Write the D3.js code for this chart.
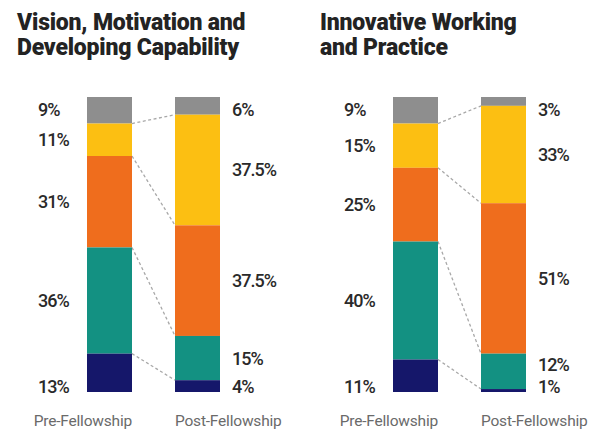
<!DOCTYPE html>
<html>
<head>
<meta charset="utf-8">
<script src="https://cdn.jsdelivr.net/npm/d3@7"></script>
<style>
  body { margin: 0; background: #fff; }
  svg { display: block; }
</style>
</head>
<body>
<div id="canvas"></div>
<script>
var _width = 597, _height = 437;

// segments, top to bottom
var segments = ["Other", "Yellow", "Orange", "Teal", "Navy"];
var colors = ["#8e8e8e", "#fcbf12", "#ef6d1d", "#139182", "#15176a"];
var stages = ["Pre-Fellowship", "Post-Fellowship"];

var titles = [
  ["Vision, Motivation and", "Developing Capability"],
  ["Innovative Working", "and Practice"]
];
var visionPre = [9, 11, 31, 36, 13];
var visionPost = [6, 37.5, 37.5, 15, 4];
var innovPre = [9, 15, 25, 40, 11];
var innovPost = [3, 33, 51, 12, 1];
var preLabels1 = ["9%", "11%", "31%", "36%", "13%"];
var postLabels1 = ["6%", "37.5%", "37.5%", "15%", "4%"];
var preLabels2 = ["9%", "15%", "25%", "40%", "11%"];
var postLabels2 = ["3%", "33%", "51%", "12%", "1%"];

var panels = [
  {title: titles[0], pre: visionPre, post: visionPost, preL: preLabels1, postL: postLabels1, x0: 0, tx: 17},
  {title: titles[1], pre: innovPre, post: innovPost, preL: preLabels2, postL: postLabels2, x0: 306, tx: 14}
];

var svg = d3.select('#canvas').append('svg')
    .attr('width', _width)
    .attr('height', _height);

// vertical scale shared by all bars (0% at top, 100% at bottom)
var y = d3.scaleLinear().domain([0, 100]).range([97, 392]);
// horizontal positions of the two bars inside a panel
var x = d3.scalePoint().domain(stages).range([87, 175]);
var bw = 45;
var font = 'Roboto, "Liberation Sans", sans-serif';

function stack(vals) {
    var acc = 0;
    return vals.map(function (v, i) {
        var s = {i: i, v: v, y0: acc, y1: acc + v};
        acc += v;
        return s;
    });
}

// label positions: centre of segment, first pinned to top, last to bottom, pushed apart
function labelY(st) {
    var ys = st.map(function (s) { return (y(s.y0) + y(s.y1)) / 2; });
    ys[0] = y(0) + 13;
    ys[ys.length - 1] = y(100) - 5;
    for (var k = ys.length - 2; k >= 1; k--) {
        if (ys[k + 1] - ys[k] < 22) ys[k] = ys[k + 1] - 22;
    }
    for (var k = 1; k < ys.length - 1; k++) {
        if (ys[k] - ys[k - 1] < 22) ys[k] = ys[k - 1] + 22;
    }
    return ys;
}

panels.forEach(function (p) {
    var g = svg.append('g').attr('transform', 'translate(' + p.x0 + ',0)');
    var xPre = x(stages[0]), xPost = x(stages[1]);

    // title
    g.append('text')
        .attr('y', 30)
        .attr('font-family', font)
        .attr('font-weight', 900)
        .attr('font-size', 23)
        .attr('letter-spacing', -0.2)
        .attr('fill', '#232323')
        .selectAll('tspan').data(p.title).enter().append('tspan')
        .attr('x', p.tx)
        .attr('dy', function (d, i) { return i === 0 ? 0 : 25; })
        .text(function (d) { return d; });

    var preSt = stack(p.pre), postSt = stack(p.post);

    // connectors
    g.selectAll('line.conn').data(preSt.slice(0, 4)).enter().append('line')
        .attr('class', 'conn')
        .attr('x1', xPre + bw)
        .attr('y1', function (d) { return y(d.y1); })
        .attr('x2', xPost)
        .attr('y2', function (d, i) { return y(postSt[i].y1); })
        .style('stroke', '#a8a8a8')
        .style('stroke-width', 1.3)
        .style('stroke-dasharray', '3,2.5');

    [[preSt, xPre], [postSt, xPost]].forEach(function (b) {
        g.selectAll(null).data(b[0]).enter().append('rect')
            .attr('x', b[1])
            .attr('width', bw)
            .attr('y', function (d) { return y(d.y0); })
            .attr('height', function (d) { return y(d.y1) - y(d.y0); })
            .style('fill', function (d) { return colors[d.i]; });
    });

    // value labels
    var lyPre = labelY(preSt), lyPost = labelY(postSt);
    [[p.preL, lyPre, 38], [p.postL, lyPost, xPost + bw + 12]].forEach(function (l) {
        g.selectAll(null).data(l[0]).enter().append('text')
            .attr('x', l[2])
            .attr('y', function (d, i) { return l[1][i]; })
            .attr('dy', '0.36em')
            .attr('font-family', font)
            .attr('font-weight', 500)
            .attr('font-size', 18)
            .attr('letter-spacing', -1)
            .attr('fill', '#2a2a2a')
            .text(function (d) { return d; });
    });

    // stage labels
    g.append('text')
        .attr('x', xPre + bw)
        .attr('y', 426)
        .attr('text-anchor', 'end')
        .attr('font-family', font)
        .attr('font-size', 15.5)
        .attr('letter-spacing', -0.2)
        .attr('fill', '#6a6a6a')
        .text(stages[0]);
    g.append('text')
        .attr('x', xPost)
        .attr('y', 426)
        .attr('font-family', font)
        .attr('font-size', 15.5)
        .attr('letter-spacing', -0.2)
        .attr('fill', '#6a6a6a')
        .text(stages[1]);
});
</script>
</body>
</html>
